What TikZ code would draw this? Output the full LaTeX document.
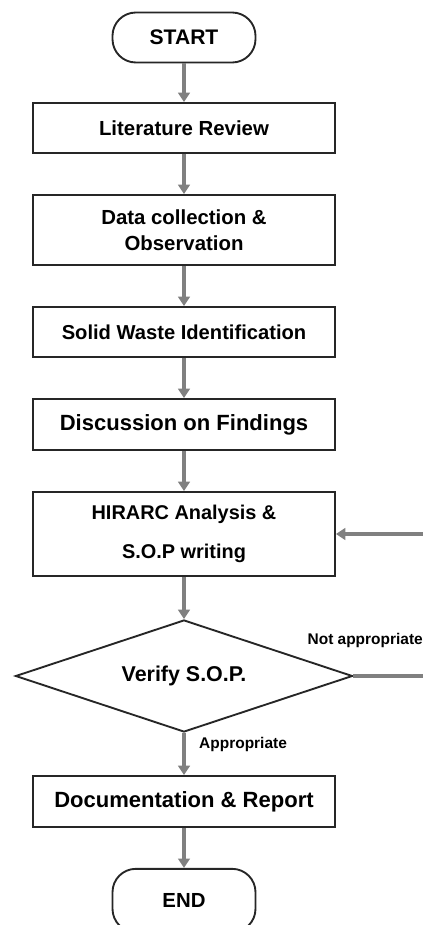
\documentclass[tikz,border=0pt]{standalone}
\usepackage{fontspec}
\setmainfont{Liberation Sans}
\usetikzlibrary{shapes.geometric,arrows.meta}
\begin{document}
\begin{tikzpicture}[
    x=0.03cm, y=-0.03cm,
    box/.style={rectangle, draw=black!85, line width=1.6pt, minimum width=9.06cm, minimum height=1.5cm, align=center, font=\bfseries\fontsize{17.4}{22}\selectfont},
    terminal/.style={box, rounded corners=0.7cm, minimum width=4.29cm},
    decision/.style={diamond, shape aspect=3, draw=black!85, line width=1.6pt, minimum width=10.11cm, minimum height=3.36cm, inner sep=0pt, font=\bfseries\fontsize{18.3}{22}\selectfont},
    flow/.style={draw=gray, line width=3pt, -{Triangle[width=10pt,length=8pt]}},
    answer/.style={inner sep=0pt, font=\bfseries\fontsize{13.2}{15}\selectfont}
]
\useasboundingbox (0,0) rectangle (423,925);

\node[terminal, font=\bfseries\fontsize{18}{22}\selectfont] (start) at (184,37.5) {START};
\node[box] (lit) at (184,128) {Literature Review};
\node[box, minimum height=2.1cm] (data) at (184,230) {Data collection \&\\Observation};
\node[box, font=\bfseries\fontsize{17.2}{22}\selectfont] (solid) at (184,332) {Solid Waste Identification};
\node[box, minimum height=1.53cm, font=\bfseries\fontsize{18.8}{22}\selectfont] (disc) at (184,424.5) {Discussion on Findings};
\node[box, minimum height=2.52cm, font=\bfseries\fontsize{17}{33}\selectfont] (hirarc) at (184,534) {HIRARC Analysis \&\\S.O.P writing};
\node[decision] (verify) at (184,676) {Verify S.O.P.};
\node[box, minimum height=1.53cm, font=\bfseries\fontsize{18.8}{22}\selectfont] (doc) at (184,801.5) {Documentation \& Report};
\node[terminal, minimum height=1.9cm] (end) at (184,900.5) {END};

\node[answer, anchor=east] (notok) at (423,640) {Not appropriate};
\node[answer, anchor=west] (ok) at (199,744) {Appropriate};

\coordinate (loopa) at (423,676);
\coordinate (loopb) at (423,534);

\draw[flow] (start) -- (lit);
\draw[flow] (lit) -- (data);
\draw[flow] (data) -- (solid);
\draw[flow] (solid) -- (disc);
\draw[flow] (disc) -- (hirarc);
\draw[flow] (hirarc) -- (verify);
\draw[flow] (verify) -- (doc);
\draw[flow] (doc) -- (end);
\draw[draw=gray, line width=3pt] (verify.east) -- (loopa);
\draw[flow] (loopb) -- (hirarc.east);
\end{tikzpicture}
\end{document}
